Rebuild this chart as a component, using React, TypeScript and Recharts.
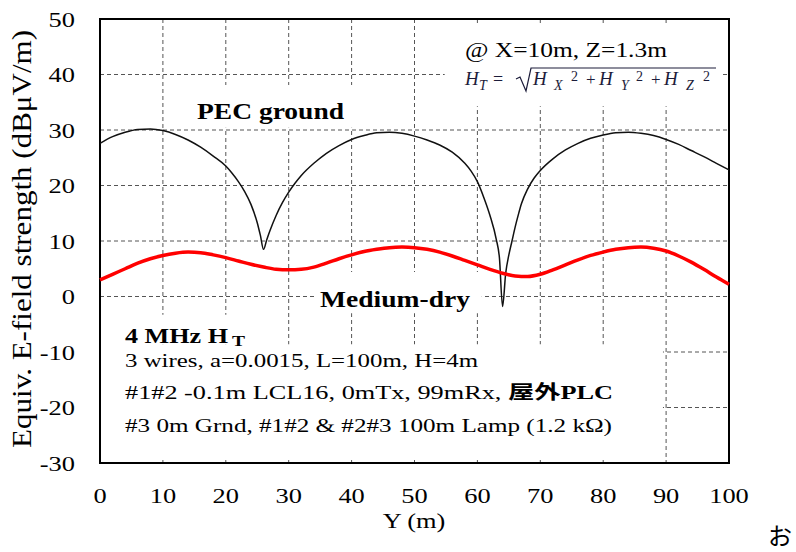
import React from 'react';
import { LineChart, Line, XAxis, YAxis, CartesianGrid, ReferenceArea } from 'recharts';

const SERIF = '"Liberation Serif", "Times New Roman", "Noto Sans CJK JP", serif';

const xTicks = [0, 10, 20, 30, 40, 50, 60, 70, 80, 90, 100];
const yTicks = [-30, -20, -10, 0, 10, 20, 30, 40, 50];

// PEC ground (black)
const pecY = [0, 2, 4, 6, 8, 10, 12, 14, 16, 18, 20, 21, 22, 23, 24, 25, 25.5, 26, 26.5, 27, 28, 29, 30, 31, 32, 34, 36, 38, 40, 42, 44, 46, 48, 50, 52, 54, 56, 58, 59, 60, 61, 62, 63, 63.5, 64, 64.5, 65, 65.5, 66, 66.5, 67, 68, 69, 70, 72, 74, 76, 78, 80, 82, 84, 86, 88, 90, 92, 94, 96, 98, 100];
const pecField = [27.6, 28.8, 29.6, 30.1, 30.2, 29.9, 29.2, 28.2, 26.9, 25.3, 23.5, 22.2, 20.7, 18.9, 16.6, 13.3, 11.0, 8.5, 10.2, 11.8, 14.6, 16.9, 18.8, 20.4, 21.8, 24.0, 25.8, 27.2, 28.3, 29.0, 29.5, 29.6, 29.4, 28.9, 28.2, 27.3, 26.0, 24.0, 22.6, 20.7, 17.9, 14.6, 10.3, 7.0, -1.8, 4.2, 7.5, 10.0, 12.5, 14.7, 16.7, 19.4, 21.3, 22.7, 24.8, 26.4, 27.6, 28.5, 29.1, 29.5, 29.6, 29.4, 29.0, 28.3, 27.4, 26.3, 25.2, 24.0, 22.8];

// Medium-dry (red)
const dryY = [0, 2, 4, 6, 8, 10, 12, 14, 16, 18, 20, 22, 24, 26, 28, 30, 32, 34, 36, 38, 40, 42, 44, 46, 48, 50, 52, 54, 56, 58, 60, 62, 64, 66, 68, 70, 72, 74, 76, 78, 80, 82, 84, 86, 88, 90, 92, 94, 96, 98, 100];
const dryField = [3.0, 4.0, 5.0, 6.0, 6.8, 7.4, 7.8, 8.0, 7.9, 7.5, 7.0, 6.4, 5.8, 5.3, 4.9, 4.8, 4.9, 5.3, 6.0, 6.8, 7.5, 8.1, 8.5, 8.8, 8.9, 8.8, 8.5, 8.0, 7.3, 6.5, 5.7, 4.9, 4.2, 3.7, 3.6, 4.0, 4.8, 5.7, 6.6, 7.4, 8.0, 8.5, 8.8, 8.9, 8.7, 8.2, 7.3, 6.2, 4.9, 3.5, 2.2];

const pecData = pecY.map((y, i) => ({ y, v: pecField[i] }));
const dryData = dryY.map((y, i) => ({ y, v: dryField[i] }));

const StretchTick = ({ x, y, payload, anchor, dy }: any) => (
  <text
    transform={`translate(${x},${y}) scale(1.2,1)`}
    textAnchor={anchor}
    dy={dy}
    fontFamily={SERIF}
    fontSize={22}
    fill="#000"
  >
    {payload.value}
  </text>
);

const Txt = ({ x, y, size, w, bold, children }: any) => (
  <text
    x={x}
    y={y}
    fontFamily={SERIF}
    fontSize={size}
    fontWeight={bold ? 'bold' : 'normal'}
    textLength={w}
    lengthAdjust="spacingAndGlyphs"
    fill="#000"
  >
    {children}
  </text>
);

const EQ = '#1c1c3a';

export default function App() {
  return (
    <div style={{ position: 'absolute', left: 0, top: 0, width: 796, height: 552, background: '#fff' }}>
      <LineChart width={796} height={552} data={pecData} margin={{ top: 19, right: 67, left: 0, bottom: 29 }}>
        <CartesianGrid stroke="#555" strokeDasharray="4 3" />
        <XAxis
          type="number"
          dataKey="y"
          domain={[0, 100]}
          ticks={xTicks}
          height={60}
          axisLine={false}
          tickLine={false}
          tickSize={0}
          tickMargin={24}
          tick={<StretchTick anchor="middle" dy="0.72em" />}
        />
        <YAxis
          type="number"
          domain={[-30, 50]}
          ticks={yTicks}
          width={100}
          axisLine={false}
          tickLine={false}
          tickSize={0}
          tickMargin={25}
          tick={<StretchTick anchor="end" dy="0.35em" />}
        />
        {/* white text boxes hiding the grid */}
        <ReferenceArea x1={14.3} x2={42.1} y1={30.4} y2={38.1} fill="#fff" fillOpacity={1} stroke="none" />
        <ReferenceArea x1={54.8} x2={98.9} y1={34.3} y2={49.3} fill="#fff" fillOpacity={1} stroke="none" />
        <ReferenceArea x1={34.2} x2={60.7} y1={-3.0} y2={4.4} fill="#fff" fillOpacity={1} stroke="none" />
        <ReferenceArea x1={0} x2={23.8} y1={-8.6} y2={-3.3} fill="#fff" fillOpacity={1} stroke="none" />
        <ReferenceArea x1={0} x2={89.5} y1={-29.4} y2={-8.6} fill="#fff" fillOpacity={1} stroke="none" />
        <ReferenceArea x1={0} x2={100} y1={-30} y2={50} fill="none" stroke="#000" strokeWidth={2} />
        <Line data={pecData} dataKey="v" type="monotone" stroke="#111" strokeWidth={1.5} dot={false} isAnimationActive={false} />
        <Line data={dryData} dataKey="v" type="monotone" stroke="#ff0000" strokeWidth={3.5} dot={false} isAnimationActive={false} />
      </LineChart>

      <svg width={796} height={552} style={{ position: 'absolute', left: 0, top: 0, pointerEvents: 'none' }}>
        <text
          transform="translate(31,239) scale(1.1,1) rotate(-90)"
          textAnchor="middle"
          fontFamily={SERIF}
          fontSize={24}
          textLength={418}
          lengthAdjust="spacingAndGlyphs"
        >
          Equiv. E-field strength (dBμV/m)
        </text>
        <text transform="translate(414,528) scale(1.2,1)" textAnchor="middle" fontFamily={SERIF} fontSize={22}>
          Y (m)
        </text>

        <Txt x={197} y={119} size={23} w={147} bold>PEC ground</Txt>
        <Txt x={320} y={307} size={23} w={150} bold>Medium-dry</Txt>
        <Txt x={465} y={57} size={20} w={202}>@ X=10m, Z=1.3m</Txt>

        <g fontFamily={SERIF} fill={EQ} fontStyle="italic">
          <text x={465} y={85} fontSize={19}>H</text>
          <text x={479} y={90} fontSize={14}>T</text>
          <text x={493} y={85} fontSize={18} fontStyle="normal">=</text>
          <polyline points="516,79 520,77 526,91 531,68 716,68" fill="none" stroke={EQ} strokeWidth={1.2} />
          <text x={533} y={85} fontSize={19}>H</text>
          <text x={554} y={90} fontSize={14}>X</text>
          <text x={571} y={81} fontSize={14} fontStyle="normal">2</text>
          <text x={586} y={85} fontSize={17} fontStyle="normal">+</text>
          <text x={599} y={85} fontSize={19}>H</text>
          <text x={621} y={90} fontSize={14}>Y</text>
          <text x={636} y={81} fontSize={14} fontStyle="normal">2</text>
          <text x={651} y={85} fontSize={17} fontStyle="normal">+</text>
          <text x={664} y={85} fontSize={19}>H</text>
          <text x={686} y={90} fontSize={14}>Z</text>
          <text x={703} y={81} fontSize={14} fontStyle="normal">2</text>
        </g>

        <Txt x={125} y={343} size={22} w={103} bold>4 MHz H</Txt>
        <Txt x={232} y={346} size={14} w={13} bold>T</Txt>
        <Txt x={125} y={367} size={19} w={353}>3 wires, a=0.0015, L=100m, H=4m</Txt>
        <Txt x={125} y={399} size={19} w={488}>
          #1#2 -0.1m LCL16, 0mTx, 99mRx, <tspan fontWeight="bold">屋外PLC</tspan>
        </Txt>
        <Txt x={125} y={432} size={19} w={487}>#3 0m Grnd, #1#2 &amp; #2#3 100m Lamp (1.2 kΩ)</Txt>

        <text x={768} y={545} fontFamily='"Noto Sans CJK JP", sans-serif' fontSize={24} fill="#000">お</text>
      </svg>
    </div>
  );
}
